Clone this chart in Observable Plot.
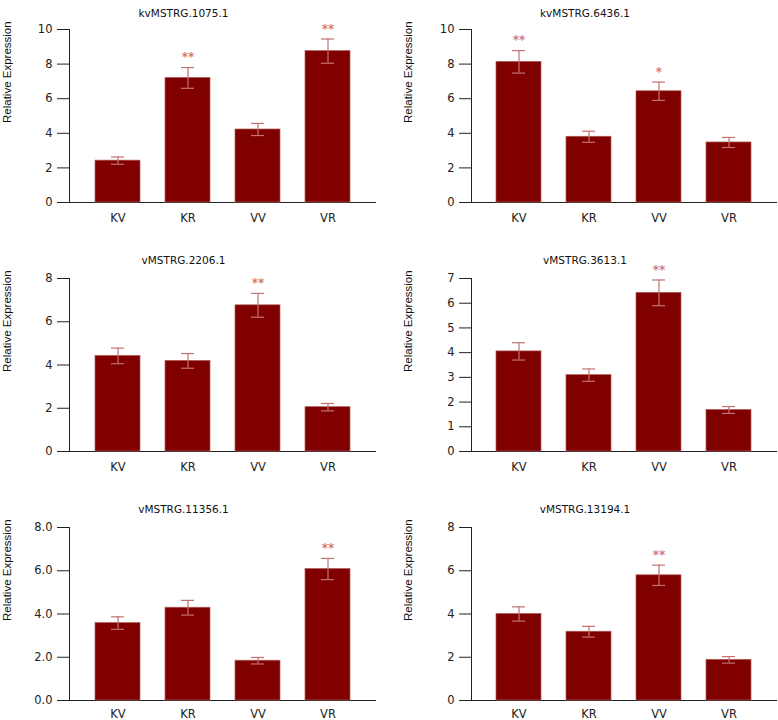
<!DOCTYPE html>
<html>
<head>
<meta charset="utf-8">
<script src="https://cdn.jsdelivr.net/npm/d3@7"></script>
<script src="https://cdn.jsdelivr.net/npm/@observablehq/plot@0.6"></script>
<style>
  body { margin: 0; background: white; }
  #grid { display: grid; grid-template-columns: 389px 389px; grid-template-rows: 240px 240px 240px; width: 778px; }
  #grid svg { display: block; }
</style>
</head>
<body>
<div id="grid"></div>
<script>
const groups = ["KV", "KR", "VV", "VR"];
const genes = ["kvMSTRG.1075.1", "kvMSTRG.6436.1", "vMSTRG.2206.1", "vMSTRG.3613.1", "vMSTRG.11356.1", "vMSTRG.13194.1"];

// mean relative expression per gene (KV, KR, VV, VR)
const means = [
  [2.42, 7.20, 4.22, 8.75],
  [8.13, 3.80, 6.43, 3.47],
  [4.42, 4.19, 6.76, 2.05],
  [4.05, 3.09, 6.42, 1.68],
  [3.58, 4.29, 1.84, 6.08],
  [4.00, 3.18, 5.79, 1.88]
];
// error bar half-widths
const errors = [
  [0.21, 0.60, 0.35, 0.70],
  [0.65, 0.32, 0.53, 0.29],
  [0.36, 0.34, 0.55, 0.17],
  [0.35, 0.25, 0.52, 0.14],
  [0.29, 0.34, 0.15, 0.49],
  [0.33, 0.25, 0.47, 0.15]
];
const stars = [
  ["", "**", "", "**"],
  ["**", "", "*", ""],
  ["", "", "**", ""],
  ["", "", "**", ""],
  ["", "", "", "**"],
  ["", "", "**", ""]
];
const yMax = [10, 10, 8, 7, 8, 8];
const yStep = [2, 2, 2, 1, 2, 2];
const yFormat = ["d", "d", "d", "d", ".1f", "d"];

const rowTop = [29, 38, 47];
const rowPad = [11, 11, 9];
const barColor = "#800000";
const errColor = "#c27272";
const starColor = "#d27a7a";

genes.forEach((gene, g) => {
  const row = Math.floor(g / 2);
  const right = g % 2 === 1;
  const ml = right ? 82 : 69;
  const mr = right ? 2 : 14;
  const mt = rowTop[row];
  const mb = 240 - mt - 173;

  const rows = groups.map((grp, i) => ({
    group: grp,
    mean: means[g][i],
    err: errors[g][i],
    sig: stars[g][i]
  }));

  const chart = Plot.plot({
    width: 389,
    height: 240,
    marginLeft: ml,
    marginRight: mr,
    marginTop: mt,
    marginBottom: mb,
    style: {fontFamily: "DejaVu Sans", fontSize: "11.5px", color: "#222", background: "white"},
    x: {domain: groups, paddingInner: 0.36, paddingOuter: 0.35, label: null, tickSize: 0, tickPadding: rowPad[row], line: true},
    y: {domain: [0, yMax[g]], ticks: d3.range(0, yMax[g] + 1, yStep[g]), tickFormat: d3.format(yFormat[g]),
        label: null, tickSize: 12, tickPadding: 5, line: true},
    marks: [
      Plot.barY(rows, {x: "group", y: "mean", fill: barColor, stroke: "#b05c5c", strokeWidth: 0.7}),
      Plot.ruleX(rows, {x: "group", y1: d => d.mean - d.err, y2: d => d.mean + d.err, stroke: errColor, strokeWidth: 1.2}),
      Plot.tickY(rows, {x: "group", y: d => d.mean + d.err, stroke: errColor, strokeWidth: 1.2, insetLeft: 16, insetRight: 16}),
      Plot.tickY(rows, {x: "group", y: d => d.mean - d.err, stroke: errColor, strokeWidth: 1.2, insetLeft: 16, insetRight: 16}),
      Plot.text(rows, {x: "group", y: d => d.mean + d.err, text: "sig", dy: -10, fill: starColor, fontSize: 12, fontWeight: "bold"}),
      Plot.text([gene], {frameAnchor: "top", dx: -39, dy: mt > 30 ? -22 : -20, fill: "#111", fontSize: 10.5}),
      Plot.text(["Relative Expression"], {frameAnchor: "left", rotate: -90, dx: right ? -63 : -62, dy: 7,
        fill: "#111", fontFamily: "Liberation Sans", fontSize: 11.5})
    ]
  });
  document.getElementById("grid").append(chart);
});
</script>
</body>
</html>
